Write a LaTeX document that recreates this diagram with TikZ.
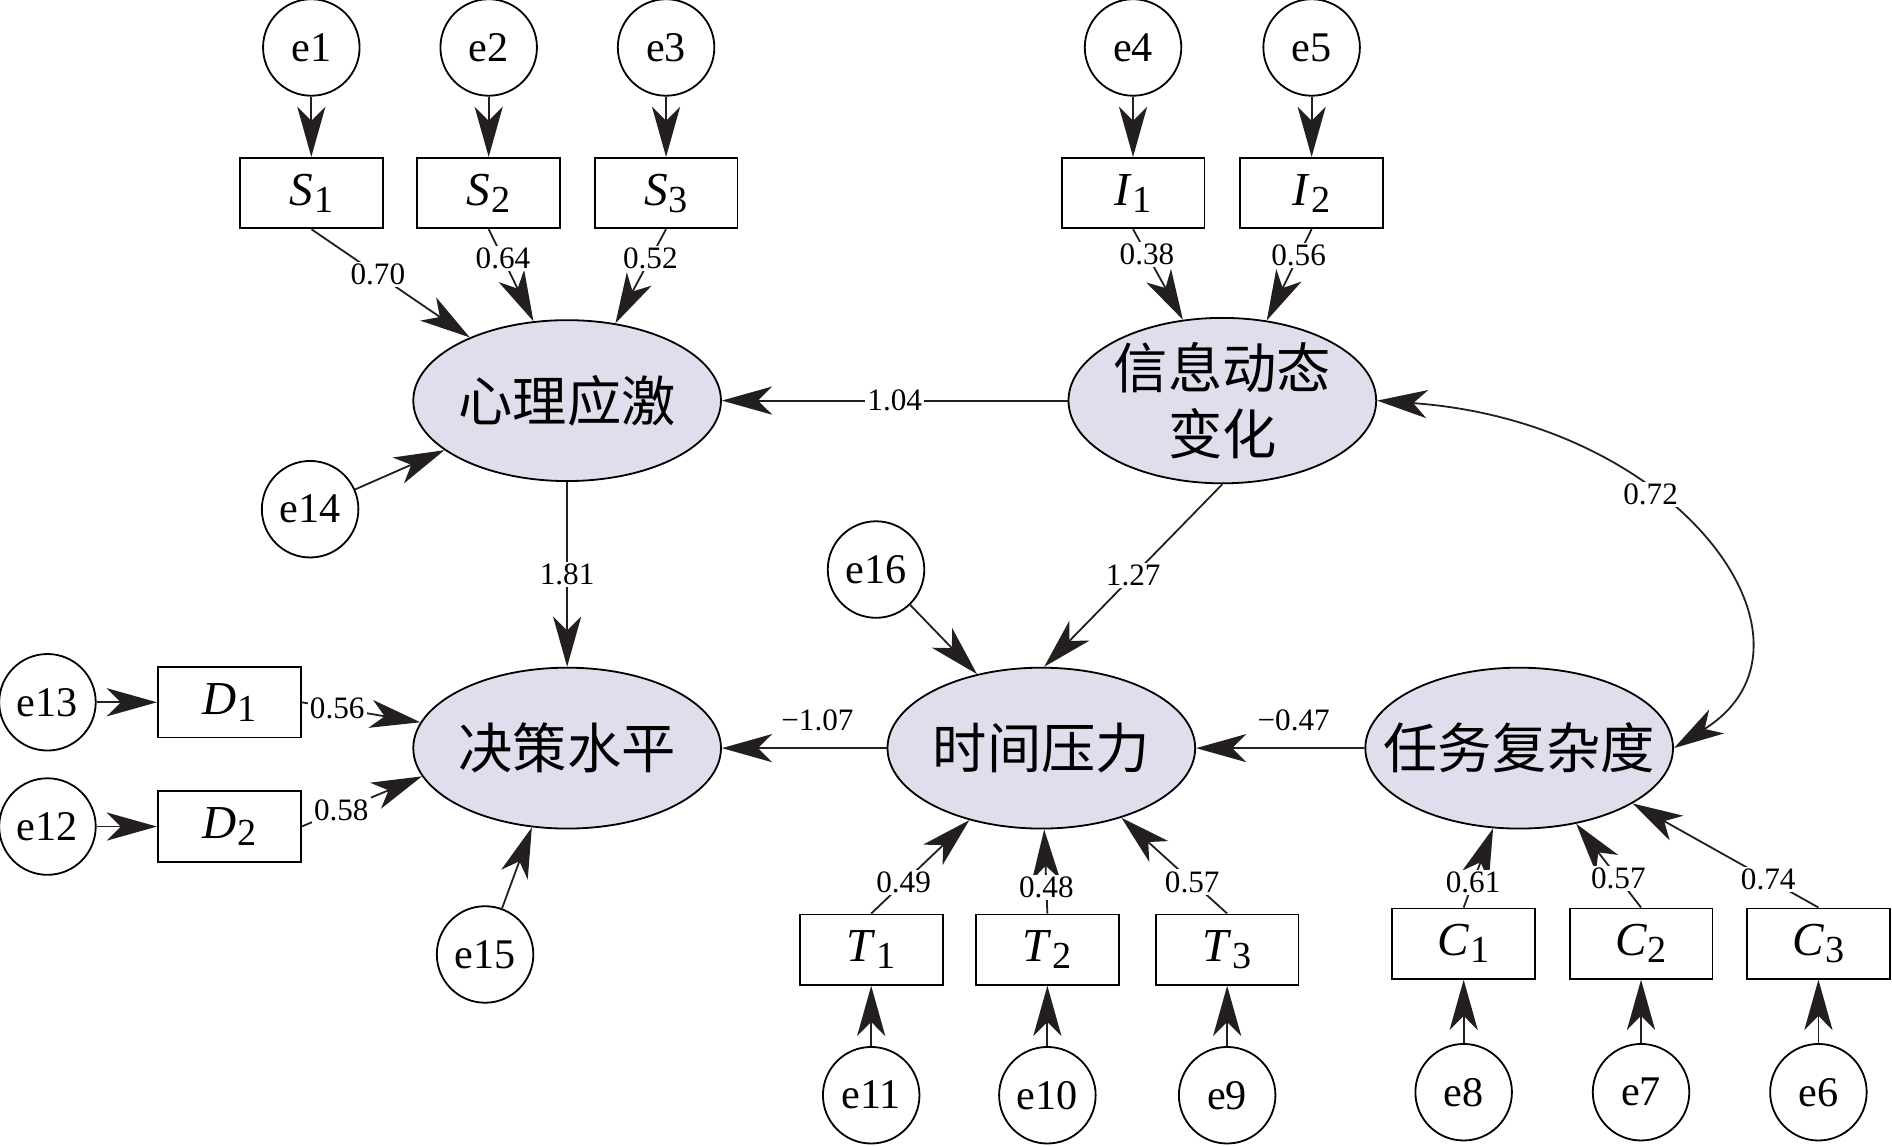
\documentclass[tikz,border=0pt]{standalone}
\usepackage{fontspec}
\setmainfont{Liberation Serif}
\newfontfamily\cjk{Noto Sans CJK SC}
\usetikzlibrary{positioning,shapes.geometric,arrows.meta}
\definecolor{latentfill}{RGB}{226,221,237}
\definecolor{linegray}{RGB}{35,31,32}
\newcommand{\obsvar}[2]{\textit{#1}\kern0.5pt\raisebox{-3.5pt}{\fontsize{19}{19}\selectfont #2}}

\begin{document}
\begin{tikzpicture}[
x=0.6pt, y=-0.6pt,
node distance=30pt,
>={Stealth[length=25pt,width=14pt,inset=7pt]},
latent/.style={ellipse, draw=black, fill=latentfill, line width=0.9pt, minimum width=153pt, minimum height=80pt, inner sep=0pt, align=center, font=\cjk\fontsize{27}{33}\selectfont},
observed/.style={rectangle, draw=black, fill=white, line width=0.9pt, minimum width=71pt, minimum height=35pt, inner sep=0pt, font=\fontsize{23.5}{24}\selectfont},
residual/.style={circle, draw=black, fill=white, line width=0.9pt, minimum size=48pt, inner sep=0pt, font=\fontsize{21}{22}\selectfont},
loading/.style={fill=white, inner sep=1pt, font=\fontsize{15.5}{16}\selectfont},
effect/.style={->, draw=linegray, line width=0.9pt}
]
\useasboundingbox (0,0) rectangle (1568,949);

\node[latent](stress) at (470,332){心理应激};
\node[latent](info) at (1013,332){信息动态\\变化};
\node[latent](decision) at (470,620){决策水平};
\node[latent](pressure) at (863,620){时间压力};
\node[latent](complexity) at (1259,620){\makebox[0pt]{任务复杂度}};

\node[observed](s1) at (258,160){\obsvar{S}{1}};
\node[observed](s2) at (405,160){\obsvar{S}{2}};
\node[observed](s3) at (552,160){\obsvar{S}{3}};
\node[observed](i1) at (939,160){\obsvar{I}{1}};
\node[observed](i2) at (1087,160){\obsvar{I}{2}};
\node[observed](d1) at (190,582){\obsvar{D}{1}};
\node[observed](d2) at (190,685){\obsvar{D}{2}};
\node[observed](t1) at (722,787){\obsvar{T}{1}};
\node[observed](t2) at (868,787){\obsvar{T}{2}};
\node[observed](t3) at (1017,787){\obsvar{T}{3}};
\node[observed](c1) at (1213,782){\obsvar{C}{1}};
\node[observed](c2) at (1360,782){\obsvar{C}{2}};
\node[observed](c3) at (1507,782){\obsvar{C}{3}};

\node[residual](e1)[above=of s1]{e1};
\node[residual](e2)[above=of s2]{e2};
\node[residual](e3)[above=of s3]{e3};
\node[residual](e4)[above=of i1]{e4};
\node[residual](e5)[above=of i2]{e5};
\node[residual](e13)[left=of d1]{e13};
\node[residual](e12)[left=of d2]{e12};
\node[residual](e11)[below=of t1]{e11};
\node[residual](e10)[below=of t2]{e10};
\node[residual](e9)[below=of t3]{e9};
\node[residual](e8)[below=31.5pt of c1]{e8};
\node[residual](e7)[below=31.5pt of c2]{e7};
\node[residual](e6)[below=31.5pt of c3]{e6};
\node[residual](e14) at (257,422){e14};
\node[residual](e15) at (402,791){e15};
\node[residual](e16) at (726,472){e16};

\draw[effect] (e1) -- (s1);
\draw[effect] (e2) -- (s2);
\draw[effect] (e3) -- (s3);
\draw[effect] (e4) -- (i1);
\draw[effect] (e5) -- (i2);
\draw[effect] (e13) -- (d1);
\draw[effect] (e12) -- (d2);
\draw[effect] (e11) -- (t1);
\draw[effect] (e10) -- (t2);
\draw[effect] (e9) -- (t3);
\draw[effect] (e8) -- (c1);
\draw[effect] (e7) -- (c2);
\draw[effect] (e6) -- (c3);

\draw[effect] (s1.south) -- node[loading, pos=0.42]{0.70} (stress.147);
\draw[effect] (s2.south) -- node[loading, pos=0.32]{0.64} (stress.113);
\draw[effect] (s3.south) -- node[loading, pos=0.31]{0.52} (stress.58);
\draw[effect] (i1.south) -- node[loading, pos=0.28]{0.38} (info.116);
\draw[effect] (i2.south) -- node[loading, pos=0.29]{0.56} (info.61);
\draw[effect] (e14) -- (stress.202);

\draw[effect] (info.west) -- node[loading]{1.04} (stress.east);
\draw[effect] (stress.south) -- node[loading]{1.81} (decision.north);
\draw[effect] (info.south) -- node[loading]{1.27} (pressure.88);
\draw[effect] (e16) -- (pressure.131);
\draw[effect] (pressure.west) -- node[loading, above=7pt, pos=0.42]{−1.07} (decision.east);
\draw[effect] (complexity.west) -- node[loading, above=7pt, pos=0.42]{−0.47} (pressure.east);
\draw[effect, <->] (info.east) to[out=-4, in=32, out looseness=1.7, in looseness=1.1] node[loading, pos=0.38]{0.72} (complexity.east);

\draw[effect] (d1.east) -- node[loading, pos=0.3]{0.56} (decision.170);
\draw[effect] (d2.east) -- node[loading, pos=0.33]{0.58} (decision.191);
\draw[effect] (e15) -- (decision.246);

\draw[effect] (t1.north) -- node[loading, pos=0.33]{0.49} (pressure.225);
\draw[effect] (t2.north) -- node[loading, pos=0.31]{0.48} (pressure.272);
\draw[effect] (t3.north) -- node[loading, pos=0.33]{0.57} (pressure.319);

\draw[effect] (c1.north) -- node[loading, pos=0.32]{0.61} (complexity.252);
\draw[effect] (c2.north) -- node[loading, pos=0.35]{0.57} (complexity.307);
\draw[effect] (c3.north) -- node[loading, pos=0.27]{0.74} (complexity.334);
\end{tikzpicture}
\end{document}
